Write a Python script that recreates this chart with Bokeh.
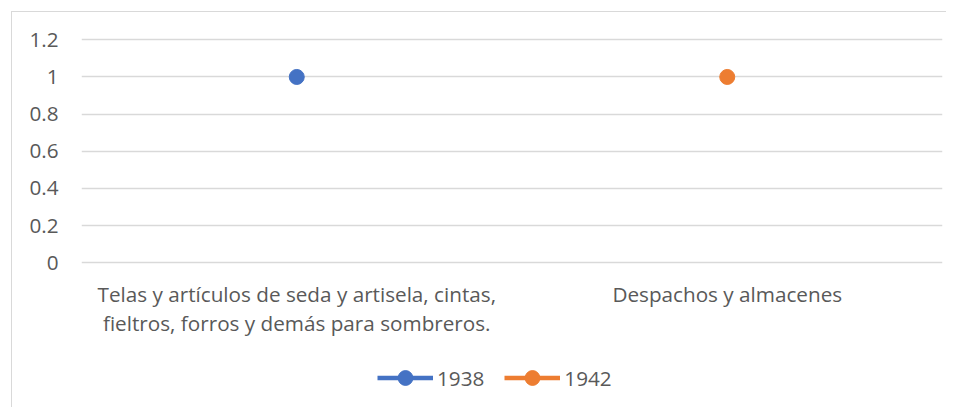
from bokeh.plotting import figure
from bokeh.models import Range1d, FactorRange, ColumnDataSource, Legend, LegendItem, FixedTicker
from bokeh.core.properties import value
from bokeh.embed import file_html
from bokeh.resources import INLINE

categories = [
    "Telas y artículos de seda y artisela, cintas,\nfieltros, forros y demás para sombreros.",
    "Despachos y almacenes",
]
series_names = ["1938", "1942"]
values_1938 = [1, float("nan")]
values_1942 = [float("nan"), 1]
y_ticks = [0, 0.2, 0.4, 0.6, 0.8, 1, 1.2]
y_tick_labels = ["0", "0.2", "0.4", "0.6", "0.8", "1", "1.2"]

colors = ["#4472C4", "#ED7D31"]
FONT = "Open Sans"
TXT = "#595959"
FS = "20.7px"

p = figure(
    width=935, height=396,
    x_range=FactorRange(factors=categories, range_padding=0),
    y_range=Range1d(-0.784, 1.25),
    x_axis_location=None,
    output_backend="svg", toolbar_location=None,
    min_border_left=69, min_border_right=5, min_border_top=18, min_border_bottom=0,
)
p.styles = {"border-left": "1px solid #d9d9d9", "border-top": "1px solid #d9d9d9",
            "margin-left": "11px", "margin-top": "11px"}
p.outline_line_color = None
p.background_fill_color = "white"
p.border_fill_color = "white"

renderers = []
for name, vals, col in zip(series_names, [values_1938, values_1942], colors):
    src = ColumnDataSource(dict(x=categories, y=vals))
    ln = p.line("x", "y", source=src, line_color=col, line_width=4.5)
    sc = p.scatter("x", "y", source=src, size=15, fill_color=col, line_color=col)
    renderers.append((name, [ln, sc]))

# category labels below the zero line
lab_src = ColumnDataSource(dict(x=categories, y=[-0.0915] * len(categories), t=categories))
p.text("x", "y", text="t", source=lab_src, text_align="center", text_baseline="top",
       text_font=value(FONT), text_font_size=FS, text_color=TXT,
       text_line_height=1.03)

p.yaxis.ticker = FixedTicker(ticks=y_ticks)
p.yaxis.major_label_overrides = {t: l for t, l in zip(y_ticks, y_tick_labels)}
p.yaxis.axis_line_color = None
p.yaxis.major_tick_line_color = None
p.yaxis.minor_tick_line_color = None
p.yaxis.major_tick_out = 0
p.yaxis.major_tick_in = 0
p.yaxis.major_label_standoff = 23
p.yaxis.major_label_text_font = FONT
p.yaxis.major_label_text_font_size = FS
p.yaxis.major_label_text_color = TXT

p.xgrid.grid_line_color = None
p.ygrid.grid_line_color = "#d9d9d9"
p.ygrid.grid_line_width = 1.5

legend = Legend(
    items=[LegendItem(label=n, renderers=r) for n, r in renderers],
    orientation="horizontal",
    location=(296, 12),
    glyph_width=56, glyph_height=37, label_standoff=4, spacing=20,
    padding=0, margin=0,
    border_line_color=None, background_fill_alpha=0,
    label_text_font=FONT, label_text_font_size=FS, label_text_color=TXT,
)
p.add_layout(legend, "center")

open("out.html", "w").write(file_html(p, INLINE))
